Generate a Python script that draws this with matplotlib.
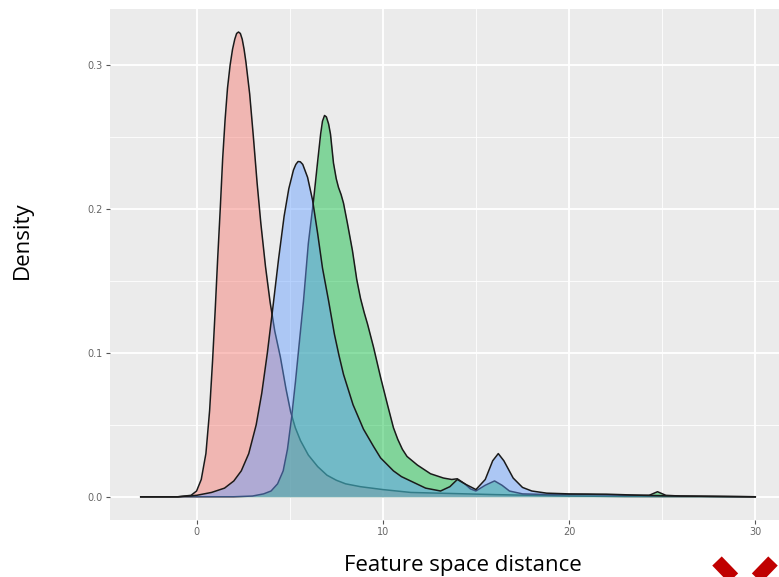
import numpy as np
import matplotlib
import matplotlib.pyplot as plt
from matplotlib.lines import Line2D

matplotlib.use('agg')

# density curves (x = feature space distance, y = density)
red_x = [-3, -1, -0.3, 0, 0.25, 0.5, 0.7, 0.86, 1.0, 1.13, 1.27, 1.4, 1.53, 1.66, 1.8, 1.93, 2.05, 2.15, 2.25,
         2.35, 2.45, 2.55, 2.65, 2.85, 3.05, 3.25, 3.45, 3.7, 3.95, 4.2, 4.5, 4.8, 5.05, 5.3, 5.58, 6.0, 6.5, 7.0, 7.5,
         8.0, 8.8, 10, 11.5, 13, 14.5, 16, 18, 20, 23, 30]
red_y = [0, 0, 0.001, 0.004, 0.012, 0.03, 0.06, 0.095, 0.13, 0.165, 0.2, 0.235, 0.262, 0.284, 0.3, 0.311, 0.318, 0.322, 0.323,
         0.322, 0.318, 0.311, 0.302, 0.28, 0.25, 0.218, 0.19, 0.16, 0.135, 0.115, 0.097, 0.075, 0.059, 0.048, 0.039, 0.029, 0.021, 0.015, 0.0115,
         0.009, 0.007, 0.005, 0.003, 0.0025, 0.002, 0.0015, 0.001, 0.0005, 0.0002, 0]

green_x = [-3, 2, 3.0, 3.6, 4.0, 4.35, 4.65, 4.88, 5.1, 5.31, 5.5, 5.74, 6.0, 6.28, 6.5, 6.66, 6.76, 6.87, 6.97, 7.09, 7.19,
           7.27, 7.35, 7.5, 7.62, 7.76, 7.89, 8.1, 8.37, 8.6, 8.8, 9.0, 9.18, 9.5, 9.88, 10.25, 10.57, 10.8, 11.05, 11.3, 11.86, 12.56,
           13.26, 13.7, 14.0, 14.4, 14.7, 15.0, 15.5, 16.0, 16.4, 16.8, 17.5, 19, 21, 23, 24.3, 24.75, 25.2, 26, 30]
green_y = [0, 0, 0.0005, 0.002, 0.004, 0.009, 0.018, 0.033, 0.055, 0.08, 0.105, 0.136, 0.176, 0.206, 0.233, 0.252, 0.261, 0.265, 0.264, 0.259, 0.252,
           0.242, 0.232, 0.221, 0.215, 0.21, 0.204, 0.19, 0.171, 0.151, 0.138, 0.128, 0.12, 0.104, 0.083, 0.064, 0.048, 0.04, 0.033, 0.028, 0.022, 0.016,
           0.013, 0.012, 0.0125, 0.009, 0.0055, 0.004, 0.008, 0.011, 0.008, 0.004, 0.002, 0.0015, 0.0015, 0.001, 0.001, 0.0035, 0.001, 0.0005, 0]

blue_x = [-3, -1, 0, 0.8, 1.5, 2.0, 2.4, 2.8, 3.2, 3.5, 3.8, 4.1, 4.4, 4.7, 4.95, 5.2, 5.33, 5.45, 5.57, 5.7, 5.96, 6.23,
          6.5, 6.76, 7.09, 7.4, 7.65, 7.89, 8.4, 8.96, 9.5, 9.88, 10.57, 11.0, 11.65, 12.3, 13.1, 13.6, 14.0, 14.4,
          15.0, 15.5, 15.9, 16.2, 16.5, 17.0, 17.5, 18.0, 18.8, 20, 22, 24, 26, 30]
blue_y = [0, 0, 0.001, 0.003, 0.006, 0.011, 0.018, 0.03, 0.05, 0.072, 0.1, 0.132, 0.165, 0.195, 0.214, 0.227, 0.231, 0.233, 0.2328, 0.231, 0.222, 0.206,
          0.183, 0.159, 0.136, 0.113, 0.098, 0.085, 0.064, 0.047, 0.035, 0.027, 0.018, 0.014, 0.01, 0.006, 0.004, 0.007, 0.012, 0.009,
          0.005, 0.012, 0.025, 0.03, 0.025, 0.013, 0.0065, 0.004, 0.0025, 0.002, 0.0018, 0.001, 0.0005, 0]

series = [
    (red_x, red_y, '#F8766D'),
    (green_x, green_y, '#00BA38'),
    (blue_x, blue_y, '#619CFF'),
]

x_ticks = [0, 10, 20, 30]
y_ticks = [0.0, 0.1, 0.2, 0.3]

fig = plt.figure(figsize=(7.79, 5.77), dpi=100)
ax = fig.add_axes([110 / 779, 1 - 520 / 577, 676 / 779, 511 / 577])
ax.set_facecolor('#EBEBEB')
for s in ax.spines.values():
    s.set_visible(False)

# ggplot style grid
ax.set_xticks(x_ticks)
ax.set_yticks(y_ticks)
ax.set_xticks([5, 15, 25], minor=True)
ax.set_yticks([0.05, 0.15, 0.25], minor=True)
ax.grid(which='major', color='white', lw=1.3)
ax.grid(which='minor', color='white', lw=0.6)
ax.set_axisbelow(True)
ax.tick_params(which='minor', length=0)
ax.tick_params(which='major', length=3, width=0.8, color='#555555', labelcolor='#666666', labelsize=7, pad=2)
ax.set_xticklabels([str(t) for t in x_ticks])
ax.set_yticklabels(['%.1f' % t for t in y_ticks])

z = 2
for xs, ys, col in series:
    ax.fill_between(xs, ys, 0, color=col, alpha=0.45, lw=0, zorder=z)
    ax.plot(xs, ys, color='#1a1a1a', lw=1.1, zorder=z + 0.5, solid_joinstyle='round')
    z += 1

ax.set_xlim(-4.65, 31.65)
ax.set_ylim(-0.01615, 0.339)

fig.text(463 / 779, 1 - 566 / 577, 'Feature space distance', family='Open Sans', fontsize=16,
         ha='center', va='center', color='black')
fig.text(22 / 779, 1 - 240 / 577, 'Density', family='Open Sans', fontsize=16,
         ha='center', va='center', rotation=90, color='black')

# red cross mark in the corner
for x0, x1 in [(717, 745), (773, 745)]:
    fig.add_artist(Line2D([x0 / 779, x1 / 779], [1 - 561 / 577, 1 - 590 / 577],
                          transform=fig.transFigure, color='#C00000', lw=9.5, solid_capstyle='butt'))

fig.savefig('out.png', dpi=100)
